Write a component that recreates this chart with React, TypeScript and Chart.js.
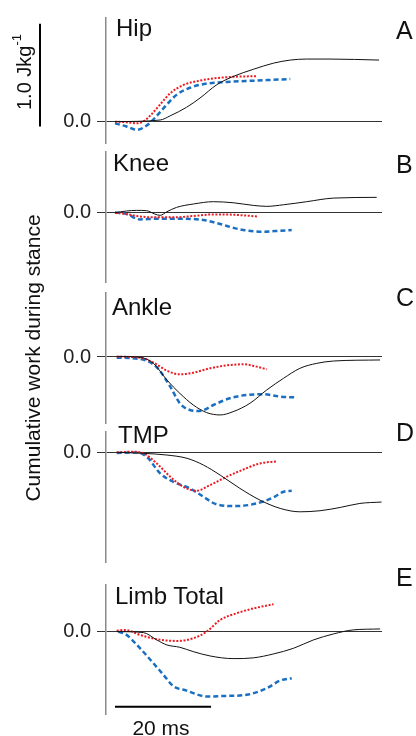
import React, { useEffect, useRef } from "react";
import { Chart, registerables } from "chart.js";

Chart.register(...registerables);

// ---- Data (time in ms, cumulative work in J/kg) ----
// A: Hip
const hipBlackT = [0, 9.4, 11.5, 14.9, 17.7, 21.2, 24.6, 28.8, 33, 36.5, 39.9, 44.8, 55];
const hipBlack = [0, 0.016, 0.057, 0.14, 0.23, 0.36, 0.44, 0.51, 0.57, 0.6, 0.61, 0.61, 0.6];
const hipRedT = [0, 2.4, 4.5, 5.9, 7.3, 9.4, 11.5, 14.2, 17.7, 21.2, 24.6, 29.6];
const hipRed = [0, -0.006, -0.016, 0.003, 0.057, 0.167, 0.277, 0.356, 0.4, 0.425, 0.437, 0.443];
const hipBlueT = [0, 2.4, 4.5, 6.6, 8.7, 10.8, 12.8, 15.6, 19.1, 23.3, 28.8, 36.5];
const hipBlue = [-0.016, -0.047, -0.079, -0.038, 0.057, 0.167, 0.261, 0.33, 0.371, 0.387, 0.399, 0.415];

// B: Knee
const kneeBlackT = [0, 2.4, 4.5, 6.6, 8.3, 9.4, 10.8, 12.8, 16.3, 20.5, 24.6, 28.8, 31.6, 35.1, 39.9, 45.5, 54.5];
const kneeBlack = [0, 0.016, 0.022, 0.019, -0.013, -0.025, 0.009, 0.05, 0.082, 0.104, 0.094, 0.069, 0.06, 0.075, 0.104, 0.138, 0.145];
const kneeRedT = [0, 2.4, 4.5, 7.9, 12.1, 16.3, 20.5, 24.6, 29.6];
const kneeRed = [0, -0.013, -0.031, -0.044, -0.044, -0.031, -0.016, -0.019, -0.035];
const kneeBlueT = [0, 2.4, 5.2, 8.7, 13.5, 18.4, 21.9, 26, 30.9, 34.4, 36.8];
const kneeBlue = [0.003, -0.013, -0.063, -0.057, -0.057, -0.069, -0.107, -0.157, -0.179, -0.17, -0.163];

// C: Ankle
const ankleBlackT = [0.35, 5.2, 8, 10.8, 13.5, 16.3, 19.1, 21.9, 24.6, 28.1, 31.6, 35.1, 38.5, 42, 45.5, 55.2];
const ankleBlack = [0.006, -0.003, -0.06, -0.217, -0.343, -0.453, -0.525, -0.547, -0.516, -0.437, -0.311, -0.201, -0.107, -0.06, -0.038, -0.028];
const ankleRedT = [0.35, 5.2, 8, 10.8, 13.5, 16.3, 19.8, 23.3, 26.8, 29.5, 31.6];
const ankleRed = [0.003, -0.006, -0.053, -0.129, -0.164, -0.148, -0.107, -0.079, -0.069, -0.091, -0.116];
const ankleBlueT = [0.35, 5.2, 8.7, 11.5, 13.5, 15.6, 17.7, 20.5, 23.9, 27.4, 30.9, 34.4, 37.5];
const ankleBlue = [-0.006, -0.019, -0.097, -0.28, -0.437, -0.5, -0.509, -0.453, -0.39, -0.358, -0.352, -0.374, -0.381];

// D: TMP
const tmpBlackT = [0.35, 5.9, 10.8, 15, 18.4, 21.9, 26, 30.2, 34.4, 38.5, 42.7, 46.9, 51, 55.5];
const tmpBlack = [0.003, -0.006, -0.022, -0.053, -0.116, -0.211, -0.336, -0.447, -0.525, -0.557, -0.547, -0.516, -0.478, -0.465];
const tmpRedT = [0.35, 3.8, 5.9, 8.7, 11.5, 14.2, 17, 19.8, 23.3, 26.8, 30.2, 33.7];
const tmpRed = [0.003, 0.009, -0.006, -0.101, -0.226, -0.321, -0.358, -0.305, -0.226, -0.157, -0.101, -0.082];
const tmpBlueT = [0.35, 4.5, 6.6, 9.4, 12.1, 15.6, 18.4, 21.2, 25.3, 29.5, 33, 35.1, 36.8];
const tmpBlue = [-0.003, 0.003, -0.038, -0.195, -0.274, -0.336, -0.415, -0.487, -0.503, -0.478, -0.421, -0.368, -0.358];

// E: Limb Total
const limbBlackT = [0.35, 5.9, 8.7, 10.8, 13.5, 16.3, 19.8, 24.6, 28.8, 33, 37.2, 41.3, 45.5, 49.6, 55.2];
const limbBlack = [0, -0.009, -0.079, -0.126, -0.148, -0.189, -0.23, -0.255, -0.248, -0.211, -0.157, -0.079, -0.022, 0.016, 0.025];
const limbRedT = [0.35, 2.1, 5.2, 8.7, 12.8, 16.3, 19.1, 21.9, 25.3, 29.5, 33];
const limbRed = [0.009, 0.016, -0.031, -0.072, -0.088, -0.063, 0, 0.11, 0.173, 0.226, 0.258];
const limbBlueT = [0.7, 2.4, 5.2, 8, 10.1, 12.1, 14.9, 19.1, 23.3, 27.4, 31.6, 34.4, 36.8];
const limbBlue = [0, -0.031, -0.157, -0.299, -0.409, -0.513, -0.557, -0.613, -0.607, -0.597, -0.535, -0.462, -0.44];

const panelTitles = ["Hip", "Knee", "Ankle", "TMP", "Limb Total"];
const panelLetters = ["A", "B", "C", "D", "E"];
const zeroTickLabel = "0.0";
const yAxisTitle = "Cumulative work during stance";
const workBarValue = 1.0; // J/kg
const timeBarValue = 20; // ms

// ---- Layout / style ----
const W = 416;
const H = 736;
const X_MIN = -1.875;
const X_MAX = 55.6;
const AXIS_LEFT = 106;
const AREA_RIGHT = 382;
const FONT = "'Liberation Sans', Arial, Helvetica, sans-serif";
const BLACK = "#111111";
const RED = "#ec1c24";
const BLUE = "#1a6fc0";

type Series = { t: number[]; v: number[] };
type PanelCfg = {
  black: Series;
  red: Series;
  blue: Series;
  yMin: number;
  yMax: number;
  top: number;
  bottom: number;
  titleX: number;
  titleBase: number;
  letterBase: number;
};

const panels: PanelCfg[] = [
  { black: { t: hipBlackT, v: hipBlack }, red: { t: hipRedT, v: hipRed }, blue: { t: hipBlueT, v: hipBlue }, yMin: -0.208, yMax: 1.01, top: 14, bottom: 143, titleX: 116, titleBase: 36.7, letterBase: 39 },
  { black: { t: kneeBlackT, v: kneeBlack }, red: { t: kneeRedT, v: kneeRed }, blue: { t: kneeBlueT, v: kneeBlue }, yMin: -0.654, yMax: 0.573, top: 152, bottom: 282, titleX: 113, titleBase: 171.7, letterBase: 172.7 },
  { black: { t: ankleBlackT, v: ankleBlack }, red: { t: ankleRedT, v: ankleRed }, blue: { t: ankleBlueT, v: ankleBlue }, yMin: -0.623, yMax: 0.604, top: 293, bottom: 423, titleX: 112, titleBase: 315, letterBase: 306.5 },
  { black: { t: tmpBlackT, v: tmpBlack }, red: { t: tmpRedT, v: tmpRed }, blue: { t: tmpBlueT, v: tmpBlue }, yMin: -1.03, yMax: 0.195, top: 432, bottom: 562, titleX: 118, titleBase: 443, letterBase: 441.5 },
  { black: { t: limbBlackT, v: limbBlack }, red: { t: limbRedT, v: limbRed }, blue: { t: limbBlueT, v: limbBlue }, yMin: -0.778, yMax: 0.44, top: 585, bottom: 714, titleX: 115, titleBase: 604, letterBase: 586 },
];

const WORK_BAR_BOTTOM = -0.047; // value where the 1.0 J/kg bar starts (panel A)
const TIME_BAR_LEVEL = -0.71; // value at which the 20 ms bar is drawn (panel E)

const toPts = (s: Series) => s.t.map((x, i) => ({ x, y: s.v[i] }));

function Panel({ cfg, index }: { cfg: PanelCfg; index: number }) {
  const ref = useRef<HTMLCanvasElement>(null);
  useEffect(() => {
    const canvas = ref.current!;
    const barPlugin = {
      id: "scaleBars" + index,
      afterDraw(chart: any) {
        const { ctx, scales } = chart;
        const xs = scales.x;
        const ys = scales.y;
        ctx.save();
        ctx.strokeStyle = "#000";
        ctx.lineWidth = 2;
        ctx.lineCap = "butt";
        if (index === 0) {
          ctx.beginPath();
          ctx.moveTo(40, ys.getPixelForValue(WORK_BAR_BOTTOM));
          ctx.lineTo(40, ys.getPixelForValue(WORK_BAR_BOTTOM + workBarValue));
          ctx.stroke();
        }
        if (index === 4) {
          const yy = ys.getPixelForValue(TIME_BAR_LEVEL);
          ctx.beginPath();
          ctx.moveTo(xs.getPixelForValue(0), yy);
          ctx.lineTo(xs.getPixelForValue(timeBarValue), yy);
          ctx.stroke();
        }
        ctx.restore();
      },
    };
    const chart = new Chart(canvas, {
      type: "line",
      data: {
        datasets: [
          { data: toPts(cfg.black), borderColor: BLACK, borderWidth: 1, pointRadius: 0, cubicInterpolationMode: "monotone", fill: false },
          { data: toPts(cfg.red), borderColor: RED, borderWidth: 2, borderDash: [2, 1.6], pointRadius: 0, cubicInterpolationMode: "monotone", fill: false },
          { data: toPts(cfg.blue), borderColor: BLUE, borderWidth: 2.5, borderDash: [5, 3], pointRadius: 0, cubicInterpolationMode: "monotone", fill: false },
        ],
      } as any,
      options: {
        animation: false,
        responsive: false,
        events: [],
        layout: { padding: { left: 0, right: W - AREA_RIGHT, top: cfg.top, bottom: H - cfg.bottom } },
        plugins: { legend: { display: false }, tooltip: { enabled: false }, title: { display: false } },
        scales: {
          x: { type: "linear", min: X_MIN, max: X_MAX, display: false },
          y: {
            type: "linear",
            min: cfg.yMin,
            max: cfg.yMax,
            afterBuildTicks: (s: any) => {
              s.ticks = [{ value: 0 }];
            },
            afterFit: (s: any) => {
              s.width = AXIS_LEFT;
            },
            grid: { color: "#333333", lineWidth: 1, drawTicks: true, tickLength: 9 },
            border: { display: true, color: "#8a8a8a", width: 1.5 },
            ticks: {
              callback: () => zeroTickLabel,
              color: "#222",
              padding: 6,
              font: { family: FONT, size: 20 },
            },
          },
        },
      } as any,
      plugins: [barPlugin],
    });
    return () => chart.destroy();
  }, []);
  return (
    <canvas
      ref={ref}
      width={W}
      height={H}
      style={{ position: "absolute", left: 0, top: 0, width: W, height: H }}
    />
  );
}

function Txt({ x, base, size, anchor, children }: { x: number; base: number; size: number; anchor?: "start" | "middle"; children: any }) {
  const top = base - 0.8465 * size;
  return (
    <div
      style={{
        position: "absolute",
        left: x,
        top,
        fontFamily: FONT,
        fontSize: size,
        lineHeight: 1,
        color: "#111",
        whiteSpace: "nowrap",
        transform: anchor === "middle" ? "translateX(-50%)" : undefined,
      }}
    >
      {children}
    </div>
  );
}

export default function App() {
  return (
    <div style={{ position: "absolute", left: 0, top: 0, width: W, height: H, background: "#fff", overflow: "hidden" }}>
      {panels.map((p, i) => (
        <Panel key={i} cfg={p} index={i} />
      ))}
      {panels.map((p, i) => (
        <Txt key={"t" + i} x={p.titleX} base={p.titleBase} size={24}>
          {panelTitles[i]}
        </Txt>
      ))}
      {panels.map((p, i) => (
        <Txt key={"l" + i} x={396} base={p.letterBase} size={25}>
          {panelLetters[i]}
        </Txt>
      ))}
      <Txt x={161} base={735} size={21} anchor="middle">
        {timeBarValue} ms
      </Txt>
      <div
        style={{
          position: "absolute",
          left: 31.6,
          top: 357.5,
          fontFamily: FONT,
          fontSize: 21,
          lineHeight: 1,
          color: "#111",
          whiteSpace: "nowrap",
          transform: "translate(-50%, -50%) rotate(-90deg)",
        }}
      >
        {yAxisTitle}
      </div>
      <div
        style={{
          position: "absolute",
          left: 23.9,
          top: 72,
          fontFamily: FONT,
          fontSize: 20,
          lineHeight: 1,
          color: "#111",
          whiteSpace: "nowrap",
          transform: "translate(-50%, -50%) rotate(-90deg)",
        }}
      >
        {workBarValue.toFixed(1)} Jkg<sup style={{ fontSize: 13, verticalAlign: "top", lineHeight: 1, position: "relative", top: -4 }}>-1</sup>
      </div>
    </div>
  );
}
